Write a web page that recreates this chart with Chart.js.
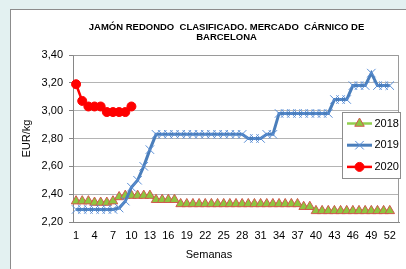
<!DOCTYPE html>
<html>
<head>
<meta charset="utf-8">
<script src="https://cdn.jsdelivr.net/npm/chart.js@4.4.1/dist/chart.umd.min.js"></script>
<style>
  html, body { margin: 0; padding: 0; width: 406px; height: 269px; overflow: hidden; background: #e3f1f1; }
  #frame { position: absolute; left: 10px; top: 9px; width: 420px; height: 290px; background: #ffffff; border: 1px solid #8c8c8c; }
  #c { position: absolute; left: 0; top: 0; }
</style>
</head>
<body>
<div id="frame"></div>
<canvas id="c" width="406" height="269"></canvas>
<script>
// ---- data ----
const titleLines = ['JAMÓN REDONDO  CLASIFICADO. MERCADO  CÁRNICO DE', 'BARCELONA'];
const yAxisTitle = 'EUR/kg';
const xAxisTitle = 'Semanas';
const weeks = ['1','2','3','4','5','6','7','8','9','10','11','12','13','14','15','16','17','18','19','20',
  '21','22','23','24','25','26','27','28','29','30','31','32','33','34','35','36','37','38','39','40',
  '41','42','43','44','45','46','47','48','49','50','51','52','53'];
const shownWeekLabels = ['1','4','7','10','13','16','19','22','25','28','31','34','37','40','43','46','49','52'];
const yTickValues = [2.2, 2.4, 2.6, 2.8, 3.0, 3.2, 3.4];
const seriesNames = ['2018', '2019', '2020'];
const values2018 = [2.35,2.35,2.35,2.34,2.34,2.34,2.35,2.38,2.39,2.39,
  2.39,2.39,2.39,2.36,2.36,2.36,2.36,2.33,2.33,2.33,
  2.33,2.33,2.33,2.33,2.33,2.33,2.33,2.33,2.33,2.33,
  2.33,2.33,2.33,2.33,2.33,2.33,2.33,2.31,2.31,2.28,
  2.28,2.28,2.28,2.28,2.28,2.28,2.28,2.28,2.28,2.28,
  2.28,2.28];
const values2019 = [2.29,2.29,2.29,2.29,2.29,2.29,2.29,2.30,2.35,2.45,
  2.50,2.60,2.72,2.83,2.83,2.83,2.83,2.83,2.83,2.83,
  2.83,2.83,2.83,2.83,2.83,2.83,2.83,2.83,2.80,2.80,
  2.80,2.83,2.83,2.98,2.98,2.98,2.98,2.98,2.98,2.98,
  2.98,2.98,3.08,3.08,3.08,3.18,3.18,3.18,3.27,3.18,
  3.18,3.18];
const values2020 = [3.19,3.07,3.03,3.03,3.03,2.99,2.99,2.99,2.99,3.03];

const FONT = '"Liberation Sans", Arial, sans-serif';
Chart.defaults.font.family = FONT;
Chart.defaults.color = '#000000';

const titlePlugin = {
  id: 'excelTitles',
  afterDraw(chart) {
    const ctx = chart.ctx;
    ctx.save();
    ctx.fillStyle = '#000';
    ctx.textAlign = 'center';
    ctx.textBaseline = 'alphabetic';
    ctx.font = 'bold 9.5px ' + FONT;
    ctx.fillText(titleLines[0], 226.5, 29.5);
    ctx.fillText(titleLines[1], 226.5, 39.8);
    ctx.font = '11px ' + FONT;
    ctx.fillText(xAxisTitle, 209, 257.5);
    ctx.restore();
  }
};

const plotBorder = {
  id: 'plotBorder',
  beforeDatasetsDraw(chart) {
    const a = chart.chartArea, ctx = chart.ctx;
    ctx.save();
    ctx.strokeStyle = '#9a9a9a';
    ctx.lineWidth = 1;
    ctx.beginPath();
    ctx.moveTo(Math.round(a.left) + 0.5, Math.round(a.top) + 0.5);
    ctx.lineTo(Math.round(a.right) - 0.5, Math.round(a.top) + 0.5);
    ctx.lineTo(Math.round(a.right) - 0.5, Math.round(a.bottom) + 0.5);
    ctx.stroke();
    ctx.restore();
  }
};

function drawMarker(ctx, style, r, x, y) {
  if (Chart.helpers && Chart.helpers.drawPoint) {
    Chart.helpers.drawPoint(ctx, {pointStyle: style, radius: r, borderWidth: ctx.lineWidth, rotation: 0}, x, y);
  }
}

const legendBox = {
  id: 'legendBox',
  afterDraw(chart) {
    const ctx = chart.ctx;
    const x0 = 342.5, y0 = 112.5, w = 58, h = 66;
    ctx.save();
    ctx.fillStyle = '#ffffff';
    ctx.fillRect(x0, y0, w, h);
    ctx.strokeStyle = '#8c8c8c';
    ctx.lineWidth = 1;
    ctx.strokeRect(x0, y0, w, h);
    chart.data.datasets.forEach((ds, i) => {
      const cy = y0 + 11 + i * 21.7;
      ctx.strokeStyle = ds.borderColor;
      ctx.lineWidth = ds.borderWidth;
      ctx.beginPath();
      ctx.moveTo(347, cy);
      ctx.lineTo(372, cy);
      ctx.stroke();
      ctx.fillStyle = ds.pointBackgroundColor;
      ctx.strokeStyle = ds.pointBorderColor;
      ctx.lineWidth = ds.pointBorderWidth;
      drawMarker(ctx, ds.pointStyle, ds.pointRadius, 359.5, cy);
      ctx.fillStyle = '#000';
      ctx.font = '11px ' + FONT;
      ctx.textAlign = 'left';
      ctx.textBaseline = 'middle';
      ctx.fillText(ds.label, 374.5, cy);
    });
    ctx.restore();
  }
};

new Chart(document.getElementById('c'), {
  type: 'line',
  data: {
    labels: weeks,
    datasets: [
      {
        label: seriesNames[0], data: values2018, order: 3,
        borderColor: '#92D050', borderWidth: 2.5,
        pointStyle: 'triangle', pointRadius: 5.5, pointHoverRadius: 5.5,
        pointBackgroundColor: '#8DC63F', pointBorderColor: '#D0594E', pointBorderWidth: 1
      },
      {
        label: seriesNames[1], data: values2019, order: 2,
        borderColor: '#4A7EBB', borderWidth: 3,
        pointStyle: 'crossRot', pointRadius: 6, pointHoverRadius: 6,
        pointBackgroundColor: '#5B8FD6', pointBorderColor: '#5B8FD6', pointBorderWidth: 1
      },
      {
        label: seriesNames[2], data: values2020, order: 1,
        borderColor: '#FF0000', borderWidth: 2.5,
        pointStyle: 'circle', pointRadius: 4.5, pointHoverRadius: 4.5,
        pointBackgroundColor: '#FF0000', pointBorderColor: '#FF0000', pointBorderWidth: 1
      }
    ]
  },
  options: {
    responsive: false,
    animation: false,
    devicePixelRatio: 1,
    layout: { padding: { left: 20, right: 7, top: 55, bottom: 0 } },
    plugins: { legend: { display: false }, title: { display: false }, tooltip: { enabled: false } },
    elements: { line: { tension: 0 } },
    scales: {
      x: {
        type: 'category',
        offset: true,
        grid: { display: false, drawTicks: false },
        border: { display: true, color: '#868686', width: 1 },
        ticks: {
          autoSkip: false, maxRotation: 0, minRotation: 0, padding: 7.4,
          font: { size: 11 }, color: '#000',
          callback: function (v) {
            const l = this.getLabelForValue(v);
            return shownWeekLabels.includes(l) ? l : '';
          }
        },
        afterFit: s => { s.height = 47; }
      },
      y: {
        min: 2.2, max: 3.4,
        grid: { color: '#b4b4b4', lineWidth: 1, drawTicks: true, tickLength: 4, tickColor: '#868686' },
        border: { display: true, color: '#868686', width: 1 },
        ticks: {
          padding: 6, font: { size: 11 }, color: '#000',
          callback: v => v.toFixed(2).replace('.', ',')
        },
        afterBuildTicks: s => { s.ticks = yTickValues.map(v => ({ value: v })); },
        title: { display: true, text: yAxisTitle, font: { size: 11 }, color: '#000', padding: { top: 0, bottom: 0 } },
        afterFit: s => { s.width = 53; }
      }
    }
  },
  plugins: [plotBorder, titlePlugin, legendBox]
});
</script>
</body>
</html>
